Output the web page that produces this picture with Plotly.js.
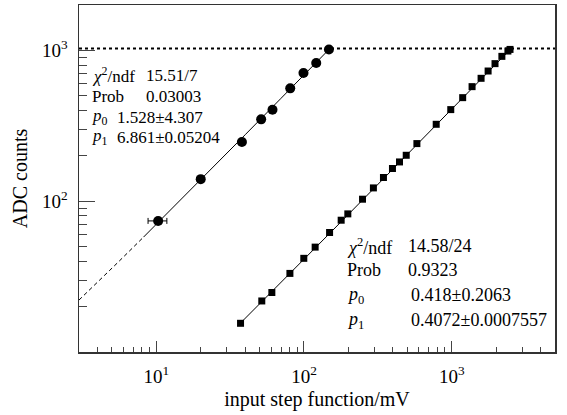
<!DOCTYPE html>
<html>
<head>
<meta charset="utf-8">
<script src="https://cdn.plot.ly/plotly-3.0.1.min.js"></script>
<style>html,body{margin:0;padding:0;background:#fff;}#chart{width:567px;height:415px;}</style>
</head>
<body>
<div id="chart"></div>
<script>
// ---- data ----
var circX = [10.3, 20, 38, 51.3, 61.2, 80.7, 99.2, 121, 147.5];
var circY = [74, 140, 247, 349, 404, 560, 708, 824, 1015];
var circXErr = [1.5, 0, 0, 0, 0, 0, 0, 0, 0];

var sqX = [37.2, 51.8, 60.6, 80.3, 99.7, 119, 149, 178.5, 198, 249, 295, 345, 397, 443, 492, 581, 785, 985, 1186, 1373, 1580, 1763, 1963, 2185, 2400, 2480];
var sqY = [15.5, 21.8, 24.8, 33.2, 41.8, 49.6, 62, 74.8, 82.4, 103.1, 122.5, 143.6, 164.7, 182.1, 201.6, 241, 323.6, 404.9, 486, 575, 653, 730, 817, 913, 990, 1015];

// fit parameters (from the stat boxes)
var fit1 = {p0: 1.528, p1: 6.861};
var fit2 = {p0: 0.418, p1: 0.4072};
var fit1SolidX = [8.2, 12, 20, 40, 70, 100, 150];
var fit1DashX = [3, 4, 5.5, 8.2];
var fit2X = [37, 50, 80, 150, 300, 600, 1000, 1600, 2480];

var saturation = 1030;
var xRange = [3, 5000];
var yRange = [10, 2000];

var xMajor = [10, 100, 1000];
var xMajorText = ['10<sup>1</sup>', '10<sup>2</sup>', '10<sup>3</sup>'];
var xMinor = [4,5,6,7,8,9,20,30,40,50,60,70,80,90,200,300,400,500,600,700,800,900,2000,3000,4000];
var yMajor = [100, 1000];
var yMajorText = ['10<sup>2</sup>', '10<sup>3</sup>'];
var yMinor = [20,30,40,50,60,70,80,90,200,300,400,500,600,700,800,900];

var stats1 = [
  ['<i>χ</i><sup>2</sup>/ndf', '15.51/7'],
  ['Prob', '0.03003'],
  ['<i>p</i><sub>0</sub>', '1.528±4.307'],
  ['<i>p</i><sub>1</sub>', '6.861±0.05204']
];
var stats2 = [
  ['<i>χ</i><sup>2</sup>/ndf', '14.58/24'],
  ['Prob', '0.9323'],
  ['<i>p</i><sub>0</sub>', '0.418±0.2063'],
  ['<i>p</i><sub>1</sub>', '0.4072±0.0007557']
];

function f(fit, xs) { return xs.map(function (x) { return fit.p0 + fit.p1 * x; }); }

var FONT = 'Liberation Serif, Times New Roman, serif';
var W = 567, H = 415, ML = 79, MR = 12, MT = 5, MB = 63;
var PW = W - ML - MR, PH = H - MT - MB;
function px(x) { return (x - ML) / PW; }
function py(y) { return (H - MB - y) / PH; }

var traces = [
  {x: xRange, y: [saturation, saturation], mode: 'lines', line: {color: 'black', width: 2, dash: 'dot'}, hoverinfo: 'skip'},
  {x: fit1DashX, y: f(fit1, fit1DashX), mode: 'lines', line: {color: 'black', width: 1, dash: '4px,3px'}},
  {x: fit1SolidX, y: f(fit1, fit1SolidX), mode: 'lines', line: {color: 'black', width: 1}},
  {x: fit2X, y: f(fit2, fit2X), mode: 'lines', line: {color: 'black', width: 1}},
  {x: circX, y: circY, mode: 'markers', marker: {symbol: 'circle', size: 10, color: 'black'},
   error_x: {type: 'data', array: circXErr, color: 'black', thickness: 1, width: 3}},
  {x: sqX, y: sqY, mode: 'markers', marker: {symbol: 'square', size: 7, color: 'black'}}
];

var ann = [];
var r1 = [75, 96, 117, 137];
var c1 = [144, 144, 115, 115];
stats1.forEach(function (row, i) {
  ann.push({xref: 'paper', yref: 'paper', x: px(90), y: py(r1[i]), xanchor: 'left', yanchor: 'middle', text: row[0], showarrow: false, font: {family: FONT, size: 17, color: 'black'}});
  ann.push({xref: 'paper', yref: 'paper', x: px(c1[i]), y: py(r1[i]), xanchor: 'left', yanchor: 'middle', text: row[1], showarrow: false, font: {family: FONT, size: 17, color: 'black'}});
});
var r2 = [246, 270, 295, 320];
var c2 = [406, 406, 409, 409];
stats2.forEach(function (row, i) {
  ann.push({xref: 'paper', yref: 'paper', x: px(345), y: py(r2[i]), xanchor: 'left', yanchor: 'middle', text: row[0], showarrow: false, font: {family: FONT, size: 18, color: 'black'}});
  ann.push({xref: 'paper', yref: 'paper', x: px(c2[i]), y: py(r2[i]), xanchor: 'left', yanchor: 'middle', text: row[1], showarrow: false, font: {family: FONT, size: 18, color: 'black'}});
});

var layout = {
  width: W, height: H,
  margin: {l: ML, r: MR, t: MT, b: MB},
  paper_bgcolor: 'white', plot_bgcolor: 'white',
  showlegend: false,
  font: {family: FONT, color: 'black', size: 18},
  xaxis: {
    type: 'log', range: [Math.log10(xRange[0]), Math.log10(xRange[1])],
    tickmode: 'array', tickvals: xMajor, ticktext: xMajorText,
    ticks: 'inside', ticklen: 11, tickwidth: 1, tickcolor: '#444',
    minor: {tickmode: 'array', tickvals: xMinor, ticks: 'inside', ticklen: 5, tickwidth: 1, tickcolor: '#444', showgrid: false},
    showline: true, mirror: true, linecolor: '#333', linewidth: 1.5,
    showgrid: false, zeroline: false,
    tickfont: {family: FONT, size: 19, color: 'black'},
    ticklabelstandoff: 7,
    title: {text: 'input step function/mV', font: {family: FONT, size: 20, color: 'black'}, standoff: 5}
  },
  yaxis: {
    type: 'log', range: [Math.log10(yRange[0]), Math.log10(yRange[1])],
    tickmode: 'array', tickvals: yMajor, ticktext: yMajorText,
    ticks: 'inside', ticklen: 16, tickwidth: 1, tickcolor: '#444',
    minor: {tickmode: 'array', tickvals: yMinor, ticks: 'inside', ticklen: 8, tickwidth: 1, tickcolor: '#444', showgrid: false},
    showline: true, mirror: true, linecolor: '#333', linewidth: 1.5,
    showgrid: false, zeroline: false,
    tickfont: {family: FONT, size: 19, color: 'black'},
    ticklabelstandoff: 6,
    title: {text: 'ADC counts', font: {family: FONT, size: 20, color: 'black'}, standoff: 9}
  },
  annotations: ann
};

Plotly.newPlot('chart', traces, layout, {staticPlot: true, displayModeBar: false});
</script>
</body>
</html>
